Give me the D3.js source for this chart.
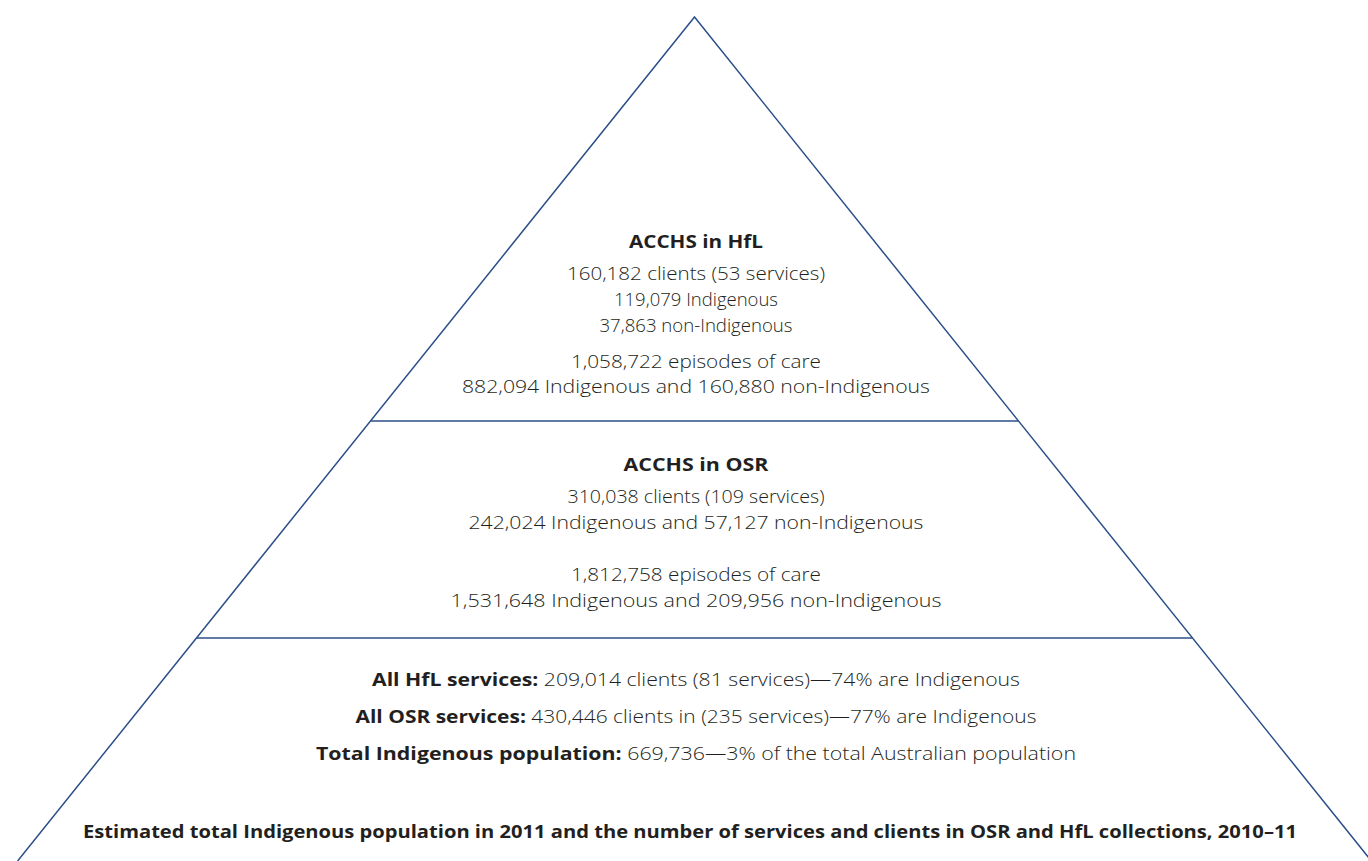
<!DOCTYPE html>
<html>
<head>
<meta charset="utf-8">
<script src="https://cdn.jsdelivr.net/npm/d3@7"></script>
<style>
  body { margin: 0; background: #fff; }
  svg { display: block; }
  text { fill: #231f20; font-family: "Open Sans", "Noto Sans", sans-serif; }
  .light { font-weight: 300; }
  .bold { font-weight: 700; }
</style>
</head>
<body>
<svg id="chart"></svg>
<script>
// tiers of the pyramid, top to bottom
const tierTitles = ["ACCHS in HfL", "ACCHS in OSR", ""];

const hflLines = [
  ["", "160,182 clients (53 services)"],
  ["", "119,079 Indigenous"],
  ["", "37,863 non-Indigenous"],
  ["", "1,058,722 episodes of care"],
  ["", "882,094 Indigenous and 160,880 non-Indigenous"]
];
const osrLines = [
  ["", "310,038 clients (109 services)"],
  ["", "242,024 Indigenous and 57,127 non-Indigenous"],
  ["", "1,812,758 episodes of care"],
  ["", "1,531,648 Indigenous and 209,956 non-Indigenous"]
];
const baseLines = [
  ["All HfL services: ", "209,014 clients (81 services)\u201474% are Indigenous"],
  ["All OSR services: ", "430,446 clients in (235 services)\u201477% are Indigenous"],
  ["Total Indigenous population: ", "669,736\u20143% of the total Australian population"]
];
const caption = "Estimated total Indigenous population in 2011 and the number of services and clients in OSR and HfL collections, 2010\u201311";

// layout
const width = 1368, height = 861;
const apex = {x: 694.5, y: 17};
const slope = 0.802;            // horizontal spread per pixel of drop
const dividers = [421, 638];    // y of the tier boundaries
const stroke = "#2b5089";

// text rows: baseline, centre and the width each line spans in the picture
const titleRows = [{y: 248, w: 134}, {y: 471, w: 145}];
const hflRows = [{y: 280, w: 258}, {y: 306, w: 164}, {y: 332, w: 193}, {y: 368, w: 250}, {y: 393, w: 468}];
const osrRows = [{y: 503, w: 257}, {y: 529, w: 455}, {y: 581, w: 250}, {y: 607, w: 491}];
const baseRows = [{y: 686, w: 648}, {y: 723, w: 681}, {y: 760, w: 760}];
const captionRow = {y: 838, w: 1214, x: 690};

const svg = d3.select("#chart").attr("width", width).attr("height", height);

const half = d3.scaleLinear().domain([apex.y, height]).range([0, (height - apex.y) * slope]);

// outline of the pyramid
const line = d3.line();
svg.append("path")
  .attr("d", line([[apex.x - half(height), height], [apex.x, apex.y], [apex.x + half(height), height]]))
  .attr("fill", "none")
  .attr("stroke", stroke)
  .attr("stroke-width", 1.5);

svg.append("g").selectAll("line")
  .data(dividers)
  .join("line")
  .attr("x1", d => apex.x - half(d))
  .attr("x2", d => apex.x + half(d))
  .attr("y1", d => d)
  .attr("y2", d => d)
  .attr("stroke", stroke)
  .attr("stroke-width", 1.5);

function addText(g, parts, row, size) {
  const t = g.append("text")
    .attr("x", row.x || apex.x + 1.5)
    .attr("y", row.y)
    .attr("text-anchor", "middle")
    .style("font-size", size + "px")
    .attr("textLength", row.w)
    .attr("lengthAdjust", "spacingAndGlyphs");
  if (parts[0]) t.append("tspan").attr("class", "bold").text(parts[0]);
  if (parts[1]) t.append("tspan").attr("class", "light").text(parts[1]);
  return t;
}

const g = svg.append("g");
tierTitles.forEach((title, i) => {
  if (title) addText(g, [title, ""], titleRows[i], 17.5);
});
hflLines.forEach((p, i) => addText(g, p, hflRows[i], 17.5));
osrLines.forEach((p, i) => addText(g, p, osrRows[i], 17.5));
baseLines.forEach((p, i) => addText(g, p, baseRows[i], 17.5));
addText(g, [caption, ""], captionRow, 18);
</script>
</body>
</html>
